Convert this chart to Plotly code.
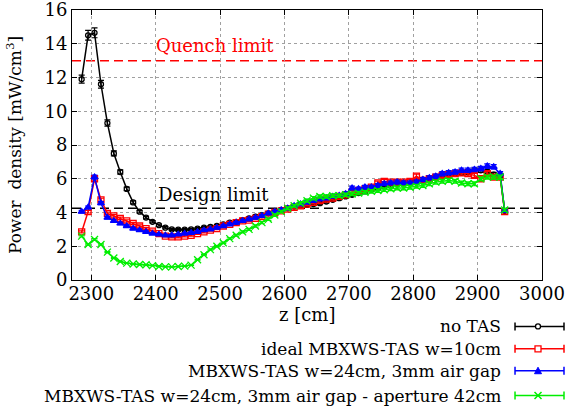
import plotly.graph_objects as go

z = [2285, 2295, 2305, 2315, 2325, 2335, 2345, 2355, 2365, 2375,
     2385, 2395, 2405, 2415, 2425, 2435, 2445, 2455, 2465, 2475,
     2485, 2495, 2505, 2515, 2525, 2535, 2545, 2555, 2565, 2575,
     2585, 2595, 2605, 2615, 2625, 2635, 2645, 2655, 2665, 2675,
     2685, 2695, 2705, 2715, 2725, 2735, 2745, 2755, 2765, 2775,
     2785, 2795, 2805, 2815, 2825, 2835, 2845, 2855, 2865, 2875,
     2885, 2895, 2905, 2915, 2925, 2935, 2942]

no_tas = [11.9, 14.5, 14.65, 11.6, 9.3, 7.5, 6.4, 5.4, 4.6, 4.05,
          3.7, 3.45, 3.25, 3.1, 3.0, 2.98, 2.98, 3.0, 3.05, 3.1,
          3.15, 3.2, 3.3, 3.4, 3.45, 3.55, 3.65, 3.75, 3.85, 3.95,
          4.05, 4.15, 4.25, 4.35, 4.4, 4.45, 4.5, 4.55, 4.65, 4.75,
          4.85, 4.95, 5.05, 5.15, 5.25, 5.35, 5.45, 5.55, 5.6, 5.7,
          5.75, 5.85, 5.9, 5.95, 6.0, 6.1, 6.15, 6.2, 6.3, 6.35,
          6.4, 6.5, 6.5, 6.4, 6.25, 6.2, 4.1]

ideal_tas = [2.85, 4.05, 6.0, 4.75, 3.95, 3.8, 3.65, 3.5, 3.35, 3.2,
             3.05, 2.9, 2.75, 2.6, 2.55, 2.55, 2.6, 2.65, 2.75, 2.85,
             2.95, 3.05, 3.2, 3.3, 3.4, 3.5, 3.55, 3.65, 3.75, 3.9,
             4.0, 4.1, 4.2, 4.3, 4.4, 4.5, 4.6, 4.7, 4.8, 4.85,
             4.95, 5.05, 5.2, 5.3, 5.4, 5.5, 5.75, 5.85, 5.8, 5.8,
             5.8, 5.85, 6.15, 5.9, 6.0, 6.1, 6.2, 6.25, 6.3, 6.35,
             6.3, 6.2, 6.0, 6.3, 6.1, 6.1, 4.05]

tas_gap = [4.05, 4.3, 6.1, 4.55, 3.7, 3.5, 3.35, 3.2, 3.05, 2.95,
           2.85, 2.75, 2.7, 2.65, 2.65, 2.7, 2.75, 2.8, 2.85, 2.95,
           3.0, 3.1, 3.2, 3.3, 3.4, 3.5, 3.6, 3.7, 3.8, 3.95,
           4.05, 4.15, 4.25, 4.4, 4.5, 4.6, 4.7, 4.8, 4.85, 4.95,
           5.0, 5.1, 5.45, 5.4, 5.5, 5.5, 5.6, 5.7, 5.75, 5.8,
           5.75, 5.75, 5.8, 5.95, 6.05, 6.15, 6.3, 6.35, 6.4, 6.5,
           6.5, 6.55, 6.6, 6.75, 6.7, 6.3, 4.1]

tas_aperture = [2.6, 2.1, 2.4, 2.1, 1.65, 1.3, 1.1, 1.0, 0.95, 0.92,
                0.9, 0.85, 0.8, 0.78, 0.78, 0.8, 0.82, 0.88, 1.2, 1.5,
                1.8, 2.0, 2.2, 2.45, 2.65, 2.85, 3.0, 3.2, 3.4, 3.6,
                3.85, 4.05, 4.25, 4.4, 4.55, 4.7, 4.85, 4.95, 4.95, 5.0,
                5.0, 5.05, 5.1, 5.15, 5.2, 5.25, 5.3, 5.35, 5.4, 5.45,
                5.45, 5.5, 5.55, 5.6, 5.7, 5.8, 5.85, 5.9, 5.85, 5.75,
                5.7, 5.7, 6.0, 6.1, 6.1, 6.1, 4.15]

series_names = ["no TAS",
                "ideal MBXWS-TAS w=10cm",
                "MBXWS-TAS w=24cm, 3mm air gap",
                "MBXWS-TAS w=24cm, 3mm air gap - aperture 42cm"]
series_values = [no_tas, ideal_tas, tas_gap, tas_aperture]
series_colors = ["#000000", "#ff0000", "#0000ff", "#00ee00"]
series_symbols = ["circle-open", "square-open", "triangle-up", "x-thin-open"]
series_sizes = [5, 6, 6, 7]

quench_limit = 13.0
design_limit = 4.25

x_ticks = [2300, 2400, 2500, 2600, 2700, 2800, 2900, 3000]
y_ticks = [0, 2, 4, 6, 8, 10, 12, 14, 16]

FONT = "DejaVu Serif, Liberation Serif, serif"

fig = go.Figure()
for name, vals, col, sym, sz in zip(series_names, series_values, series_colors,
                                     series_symbols, series_sizes):
    fig.add_trace(go.Scatter(
        x=z, y=vals, mode="lines+markers", name=name,
        line=dict(color=col, width=1.5),
        marker=dict(symbol=sym, size=sz, color=col, line=dict(color=col, width=1.3)),
        error_y=dict(type="percent", value=2, color=col, thickness=1.2, width=3),
        showlegend=False,
    ))

shapes = [
    dict(type="line", xref="paper", x0=0, x1=1, yref="y", y0=quench_limit, y1=quench_limit,
         line=dict(color="#ff0000", width=1.5, dash="9px,5px"), layer="below"),
    dict(type="line", xref="paper", x0=0, x1=1, yref="y", y0=design_limit, y1=design_limit,
         line=dict(color="#000000", width=1.5, dash="9px,5px"), layer="below"),
]

annotations = [
    dict(x=2398, y=13.9, xref="x", yref="y", text="Quench limit", showarrow=False,
         xanchor="left", yanchor="middle", font=dict(family=FONT, size=18, color="#ff0000")),
    dict(x=2400, y=5.05, xref="x", yref="y", text="Design limit", showarrow=False,
         xanchor="left", yanchor="middle", font=dict(family=FONT, size=18, color="#000000")),
    dict(x=0.5, y=-0.128, xref="paper", yref="paper", text="z [cm]", showarrow=False,
         xanchor="center", yanchor="middle", font=dict(family=FONT, size=18, color="#000000")),
]

# custom legend (text right-aligned, key on the right as in the original)
leg_y = [-0.172, -0.255, -0.336, -0.428]
txt_x = 0.918
k0, k1, km = 0.9426, 1.0468, 0.9915
for name, col, sym, yy in zip(series_names, series_colors, series_symbols, leg_y):
    annotations.append(dict(x=txt_x, y=yy, xref="paper", yref="paper", text=name,
                            showarrow=False, xanchor="right", yanchor="middle",
                            font=dict(family=FONT, size=17, color="#000000")))
    shapes.append(dict(type="line", xref="paper", yref="paper", x0=k0, x1=k1, y0=yy, y1=yy,
                       line=dict(color=col, width=1.5)))
    for xe in (k0, k1):
        shapes.append(dict(type="line", xref="paper", yref="paper",
                           xsizemode="pixel", ysizemode="pixel", xanchor=xe, yanchor=yy,
                           x0=0, x1=0, y0=-4, y1=4, line=dict(color=col, width=1.5)))
    if sym == "circle-open":
        shapes.append(dict(type="circle", xref="paper", yref="paper",
                           xsizemode="pixel", ysizemode="pixel", xanchor=km, yanchor=yy,
                           x0=-2.5, x1=2.5, y0=-2.5, y1=2.5,
                           line=dict(color=col, width=1.3), fillcolor="white"))
    elif sym == "square-open":
        shapes.append(dict(type="rect", xref="paper", yref="paper",
                           xsizemode="pixel", ysizemode="pixel", xanchor=km, yanchor=yy,
                           x0=-3, x1=3, y0=-3, y1=3,
                           line=dict(color=col, width=1.3), fillcolor="white"))
    elif sym == "triangle-up":
        shapes.append(dict(type="path", xref="paper", yref="paper",
                           xsizemode="pixel", ysizemode="pixel", xanchor=km, yanchor=yy,
                           path="M -3.5 -3 L 3.5 -3 L 0 3.5 Z",
                           line=dict(color=col, width=1), fillcolor=col))
    else:
        shapes.append(dict(type="path", xref="paper", yref="paper",
                           xsizemode="pixel", ysizemode="pixel", xanchor=km, yanchor=yy,
                           path="M -3.5 -3.5 L 3.5 3.5 M -3.5 3.5 L 3.5 -3.5",
                           line=dict(color=col, width=1.5)))

fig.update_layout(
    width=567, height=410,
    margin=dict(l=72, r=25, t=10, b=130, autoexpand=False),
    paper_bgcolor="white", plot_bgcolor="white",
    font=dict(family=FONT, size=18, color="#000000"),
    shapes=shapes, annotations=annotations,
    showlegend=False,
)
fig.update_xaxes(
    range=[2270, 3000], tickvals=x_ticks, ticks="inside", ticklen=5,
    tickcolor="#000000", showline=True, linecolor="#000000", linewidth=1, mirror="ticks",
    showgrid=True, gridcolor="#a0a0a0", griddash="3px,3px", gridwidth=1, zeroline=False,
    tickfont=dict(family=FONT, size=18), ticklabeloverflow="allow", automargin=False,
    ticklabelstandoff=-3,
)
fig.update_yaxes(
    range=[0, 16], tickvals=y_ticks, ticks="inside", ticklen=5,
    tickcolor="#000000", showline=True, linecolor="#000000", linewidth=1, mirror="ticks",
    showgrid=True, gridcolor="#a0a0a0", griddash="3px,3px", gridwidth=1, zeroline=False,
    title=dict(text="Power  density [mW/cm<sup>3</sup>]", font=dict(family=FONT, size=17), standoff=18),
    tickfont=dict(family=FONT, size=18), ticklabeloverflow="allow", automargin=False,
)

fig.write_html("out.html", config={"displayModeBar": False},
               post_script="document.body.style.margin='0';")
